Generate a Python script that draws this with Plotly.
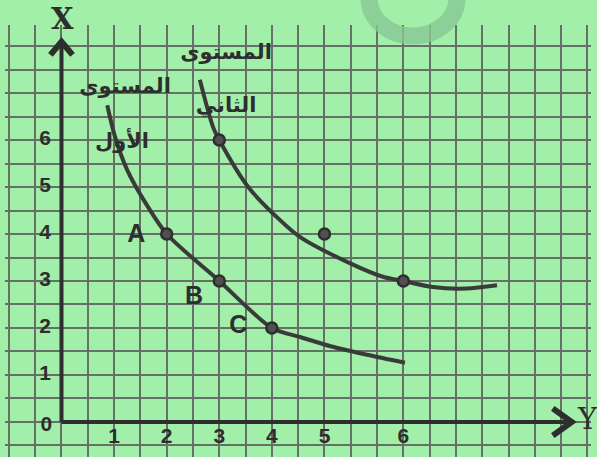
import plotly.graph_objects as go

# ---------------- data ----------------
x_tick_labels = ["1", "2", "3", "4", "5", "6"]
x_tick_pos = [1, 2, 3, 4, 5, 6.5]          # "6" is drawn half a cell further right
y_tick_labels = ["1", "2", "3", "4", "5", "6"]
y_tick_pos = [1, 2, 3, 4, 5, 6]

# first level (المستوى الأول)
level1_x = [0.87, 1.02, 1.25, 1.62, 2.0, 3.0, 4.0, 4.53, 5.16, 5.81, 6.53]
level1_y = [6.74, 6.06, 5.36, 4.62, 4.0, 3.0, 2.0, 1.81, 1.60, 1.43, 1.26]
level1_pts_x = [2, 3, 4]
level1_pts_y = [4, 3, 2]
level1_pts_names = ["A", "B", "C"]

# second level (المستوى الثاني)
level2_x = [2.63, 2.88, 3.0, 3.55, 4.15, 4.53, 5.48, 6.11, 6.5, 7.06, 7.7, 8.28]
level2_y = [7.28, 6.28, 6.0, 5.0, 4.30, 3.94, 3.38, 3.09, 3.0, 2.87, 2.84, 2.91]
level2_pts_x = [3, 6.5]
level2_pts_y = [6, 3]

extra_pt_x = [5]
extra_pt_y = [4]

# ---------------- style ----------------
BG = "#a2efa9"
GRID = "#667066"
INK = "#2e2e2e"
CURVE = "#3a3a3a"
W, H = 597, 457
ML, MR, MT, MB = 5, 6, 25, 0
X_RANGE = [-1.074, 10.067]
Y_RANGE = [-0.745, 8.447]


def px_to_paper_x(px):
    return (px - ML) / (W - ML - MR)


def px_to_paper_y(py):
    return (H - MB - py) / (H - MT - MB)


fig = go.Figure()

# curves
fig.add_trace(go.Scatter(x=level1_x, y=level1_y, mode="lines",
                         line=dict(color=CURVE, width=4, shape="spline", smoothing=0.8),
                         hoverinfo="skip", showlegend=False))
fig.add_trace(go.Scatter(x=level2_x, y=level2_y, mode="lines",
                         line=dict(color=CURVE, width=4, shape="spline", smoothing=0.8),
                         hoverinfo="skip", showlegend=False))

# points
marker = dict(symbol="circle", size=11, color="#505050", line=dict(color=INK, width=2.5))
for xs, ys in [(level1_pts_x, level1_pts_y), (level2_pts_x, level2_pts_y), (extra_pt_x, extra_pt_y)]:
    fig.add_trace(go.Scatter(x=xs, y=ys, mode="markers", marker=marker,
                             hoverinfo="skip", showlegend=False))

# point names A, B, C
name_pos_x = [1.42, 2.52, 3.36]
name_pos_y = [3.96, 2.64, 2.02]
fig.add_trace(go.Scatter(x=name_pos_x, y=name_pos_y, mode="text",
                         text=["<b>%s</b>" % n for n in level1_pts_names],
                         textfont=dict(family="Liberation Sans", size=25, color=INK),
                         hoverinfo="skip", showlegend=False))

# axes with chevron arrows
y_top = 8.09
x_end = 9.7
fig.add_trace(go.Scatter(x=[0, 0, None, 0, x_end], y=[0, y_top, None, 0, 0], mode="lines",
                         line=dict(color=INK, width=4), hoverinfo="skip", showlegend=False))
fig.add_trace(go.Scatter(x=[-0.21, 0, 0.21, None, x_end - 0.36, x_end, x_end - 0.36],
                         y=[y_top - 0.28, y_top, y_top - 0.28, None, 0.29, 0, -0.29],
                         mode="lines", line=dict(color=INK, width=6),
                         hoverinfo="skip", showlegend=False))

# tick labels
fig.add_trace(go.Scatter(x=x_tick_pos, y=[-0.34] * len(x_tick_pos), mode="text",
                         text=["<b>%s</b>" % t for t in x_tick_labels],
                         textfont=dict(family="Liberation Sans", size=21, color=INK),
                         hoverinfo="skip", showlegend=False))
fig.add_trace(go.Scatter(x=[-0.31] * len(y_tick_pos), y=y_tick_pos, mode="text",
                         text=["<b>%s</b>" % t for t in y_tick_labels],
                         textfont=dict(family="Liberation Sans", size=21, color=INK),
                         hoverinfo="skip", showlegend=False))
fig.add_trace(go.Scatter(x=[-0.29], y=[-0.08], mode="text", text=["<b>0</b>"],
                         textfont=dict(family="Liberation Sans", size=21, color=INK),
                         hoverinfo="skip", showlegend=False))

# Arabic labels
ar_font = dict(family="DejaVu Sans", size=21, color=INK)
fig.add_trace(go.Scatter(x=[1.21, 1.15, 3.13, 3.13], y=[7.11, 5.94, 7.83, 6.70], mode="text",
                         text=["<b>المستوى</b>", "<b>الأول</b>", "<b>المستوى</b>", "<b>الثاني</b>"],
                         textfont=ar_font, hoverinfo="skip", showlegend=False))

# axis names
fig.add_annotation(x=px_to_paper_x(62), y=px_to_paper_y(19), xref="paper", yref="paper",
                   xanchor="center", yanchor="middle",
                   text="<b>X</b>", showarrow=False,
                   font=dict(family="DejaVu Serif", size=29, color=INK))
fig.add_annotation(x=px_to_paper_x(587), y=px_to_paper_y(419), xref="paper", yref="paper",
                   xanchor="center", yanchor="middle",
                   text="Y", showarrow=False,
                   font=dict(family="DejaVu Serif", size=29, color=INK))

# faint watermark ring at the top
fig.add_shape(type="circle", xref="paper", yref="paper",
              x0=px_to_paper_x(369), x1=px_to_paper_x(457),
              y0=px_to_paper_y(36), y1=px_to_paper_y(-40),
              line=dict(color="#87c894", width=17), opacity=0.8, layer="above")

fig.update_layout(
    width=W, height=H,
    margin=dict(l=ML, r=MR, t=MT, b=MB),
    paper_bgcolor=BG, plot_bgcolor=BG,
    xaxis=dict(range=X_RANGE, tick0=0, dtick=0.5, showgrid=True, gridcolor=GRID,
               gridwidth=1.6, zeroline=False, showticklabels=False, ticks="",
               showline=False, fixedrange=True),
    yaxis=dict(range=Y_RANGE, tick0=0, dtick=0.5, showgrid=True, gridcolor=GRID,
               gridwidth=1.6, zeroline=False, showticklabels=False, ticks="",
               showline=False, fixedrange=True),
    showlegend=False,
)

fig.write_html("out.html", config={"displayModeBar": False},
               post_script="document.body.style.margin='0';document.body.style.overflow='hidden';")
